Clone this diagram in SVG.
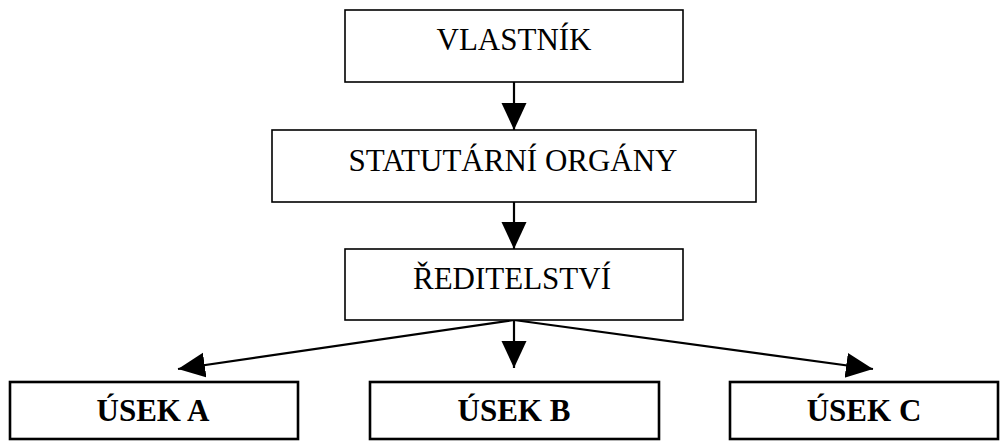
<svg xmlns="http://www.w3.org/2000/svg" width="1006" height="441" viewBox="0 0 1006 441">
<style>
.box{fill:#fff;stroke:#000;stroke-width:1.6}
.bbox{fill:#fff;stroke:#000;stroke-width:2.6}
.t{font-family:"Liberation Serif","Times New Roman",serif;font-size:31px;fill:#000;text-anchor:middle}
.tb{font-family:"Liberation Serif","Times New Roman",serif;font-size:31px;font-weight:bold;fill:#000;text-anchor:middle}
.c{stroke:#000;stroke-width:2.2;fill:none}
</style>
<defs>
<marker id="ah" markerUnits="userSpaceOnUse" markerWidth="28" markerHeight="26" refX="27" refY="12.5" orient="auto">
<path d="M0,0 L27,12.5 L0,25 z" fill="#000"/>
</marker>
</defs>
<rect width="1006" height="441" fill="#fff"/>
<g id="connectors">
<line class="c" x1="514" y1="82" x2="514" y2="130" marker-end="url(#ah)"/>
<line class="c" x1="514" y1="202" x2="514" y2="249" marker-end="url(#ah)"/>
<line class="c" x1="514" y1="320" x2="514" y2="368" marker-end="url(#ah)"/>
<line class="c" x1="514" y1="320" x2="178" y2="369" marker-end="url(#ah)"/>
<line class="c" x1="514" y1="320" x2="873" y2="369" marker-end="url(#ah)"/>
</g>
<g id="vlastnik">
<rect class="box" x="345" y="10" width="338" height="72"/>
<text class="t" x="514" y="50">VLASTNÍK</text>
</g>
<g id="statutarni">
<rect class="box" x="272" y="130" width="484" height="72"/>
<text class="t" x="513" y="171">STATUTÁRNÍ ORGÁNY</text>
</g>
<g id="reditelstvi">
<rect class="box" x="345" y="249" width="338" height="71"/>
<text class="t" x="512" y="289">ŘEDITELSTVÍ</text>
</g>
<g id="usek-a">
<rect class="bbox" x="10" y="382" width="288" height="57"/>
<text class="tb" x="153" y="421">ÚSEK A</text>
</g>
<g id="usek-b">
<rect class="bbox" x="370" y="382" width="289" height="57"/>
<text class="tb" x="514" y="421">ÚSEK B</text>
</g>
<g id="usek-c">
<rect class="bbox" x="730" y="382" width="268" height="57"/>
<text class="tb" x="864" y="421">ÚSEK C</text>
</g>
</svg>
